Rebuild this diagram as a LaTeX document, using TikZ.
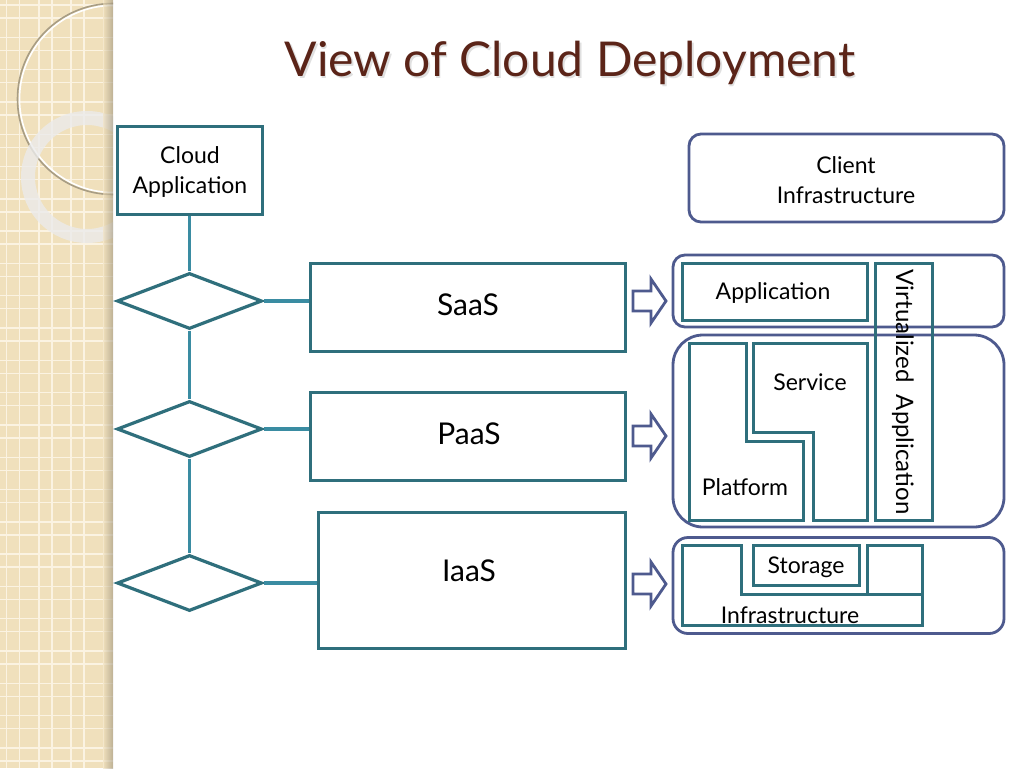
\documentclass[tikz,border=0pt]{standalone}
\usepackage{fontspec}
\setmainfont{Lato}
\usetikzlibrary{shapes.geometric}
\definecolor{teal1}{HTML}{2F6F7C}
\definecolor{teal2}{HTML}{3A8CA2}
\definecolor{slate}{HTML}{4E5A8E}
\definecolor{titlec}{HTML}{5B2418}
\definecolor{beige}{HTML}{F0E0BC}
\definecolor{gridc}{HTML}{FBF3E2}
\begin{document}
\begin{tikzpicture}[x=1pt,y=-1pt,
  tbox/.style={draw=teal1,line width=3pt,fill=white,minimum width=#1,inner sep=0pt},
  dia/.style={diamond,draw=teal1,line width=3.2pt,aspect=2.6,minimum width=145pt,minimum height=56pt,inner sep=0pt},
  conn/.style={draw=teal2,line width=3.4pt},
  rbox/.style={draw=slate,line width=2.8pt,rounded corners=#1,inner sep=0pt},
  ishape/.style={draw=teal1,line width=3pt},
  lbl/.style={font=\fontsize{23}{30}\selectfont,align=center,inner sep=0pt},
  big/.style={font=\fontsize{30}{34}\selectfont,inner sep=0pt},
  barrow/.pic={\draw[slate,line width=2.8pt,line join=miter] (-16,-10) -- (2,-10) -- (2,-22) -- (17,0) -- (2,22) -- (2,10) -- (-16,10) -- cycle;}
]
\useasboundingbox (0,0) rectangle (1024,768);
\fill[white] (0,0) rectangle (1024,768);
% decorative strip
\begin{scope}
\clip (0,0) rectangle (113,768);
\fill[beige] (0,0) rectangle (113,768);
\foreach \k in {0,...,24} {
  \draw[gridc,line width=1.4pt] (0,{5+32.3*\k}) -- (113,{5+32.3*\k});
  \draw[gridc,line width=1.4pt] (0,{18+32.3*\k}) -- (113,{18+32.3*\k});
}
\foreach \k in {0,...,3} {
  \draw[gridc,line width=1.4pt] ({6.5+32.3*\k},0) -- ({6.5+32.3*\k},768);
  \draw[gridc,line width=1.4pt] ({19.5+32.3*\k},0) -- ({19.5+32.3*\k},768);
}
\draw[white,line width=1.6pt] (113,99) circle (93.5);
\draw[black!30!beige,line width=1.6pt] (113,99) circle (95.5);
\draw[black!8,opacity=0.8,line width=14pt] (87,177) circle (59);
\shade[left color=beige,right color=black!35!beige,opacity=0.6] (103,0) rectangle (113,768);
\end{scope}
% title
\node[font=\fontsize{48}{52}\selectfont,text=black!12,inner sep=0pt] at (571.5,64.5) {View of Cloud Deployment};
\node[font=\fontsize{48}{52}\selectfont,text=titlec,inner sep=0pt] (title) at (570,63) {View of Cloud Deployment};
% left column
\node[tbox=145pt,minimum height=88pt] (ca) at (189.5,170) {};
\node[lbl] (calbl) at (190,172) {Cloud\\Application};
\node[dia] (d1) at (189.5,301) {};
\node[dia] (d2) at (189.5,429) {};
\node[dia] (d3) at (189.5,583) {};
\draw[conn] (ca.south) -- (d1.north);
\draw[conn] (d1.south) -- (d2.north);
\draw[conn] (d2.south) -- (d3.north);
% service model boxes
\node[tbox=315pt,minimum height=88pt] (saas) at (467.5,307) {};
\node[tbox=315pt,minimum height=88pt] (paas) at (467.5,436) {};
\node[tbox=307pt,minimum height=136pt] (iaas) at (471.5,580) {};
\node[big] at (468,305) {SaaS};
\node[big] at (469,434) {PaaS};
\node[big] at (469,571) {IaaS};
\draw[conn] (d1.east) -- (saas.west|-d1.east);
\draw[conn] (d2.east) -- (paas.west|-d2.east);
\draw[conn] (d3.east) -- (iaas.west|-d3.east);
% block arrows
\pic at (649,301) {barrow};
\pic at (649,436) {barrow};
\pic at (649,584) {barrow};
% right side
\node[rbox=12pt,minimum width=315pt,minimum height=88pt] (client) at (846.5,178) {};
\node[lbl] at (846,180) {Client\\Infrastructure};
\node[rbox=12pt,minimum width=331pt,minimum height=72pt] (r1) at (838.5,291) {};
\node[rbox=30pt,minimum width=331pt,minimum height=192pt] (r2) at (838.5,431) {};
\node[rbox=15pt,minimum width=331pt,minimum height=96pt] (r3) at (838.5,585.5) {};
% inner shapes
\draw[ishape] (682,263) rectangle (867,320);
\node[lbl] at (773,293) {Application};
\draw[ishape] (875,263) rectangle (932,520);
\node[lbl,font=\fontsize{24}{30}\selectfont,rotate=-90] at (903,392) {Virtualized\ \ Application};
\draw[ishape] (689,343) -- (746,343) -- (746,441) -- (803,441) -- (803,520) -- (689,520) -- cycle;
\draw[ishape] (753,343) -- (867,343) -- (867,520) -- (813,520) -- (813,432) -- (753,432) -- cycle;
\node[lbl] at (810,382) {Service};
\node[lbl] at (745,487) {Platform};
\draw[ishape] (682,545) -- (741,545) -- (741,594) -- (922,594) -- (922,625) -- (682,625) -- cycle;
\draw[ishape] (867,545) rectangle (922,594);
\draw[ishape] (753,545) rectangle (859,585);
\node[lbl] at (806,567) {Storage};
\node[lbl] at (790,615) {Infrastructure};
\end{tikzpicture}
\end{document}
